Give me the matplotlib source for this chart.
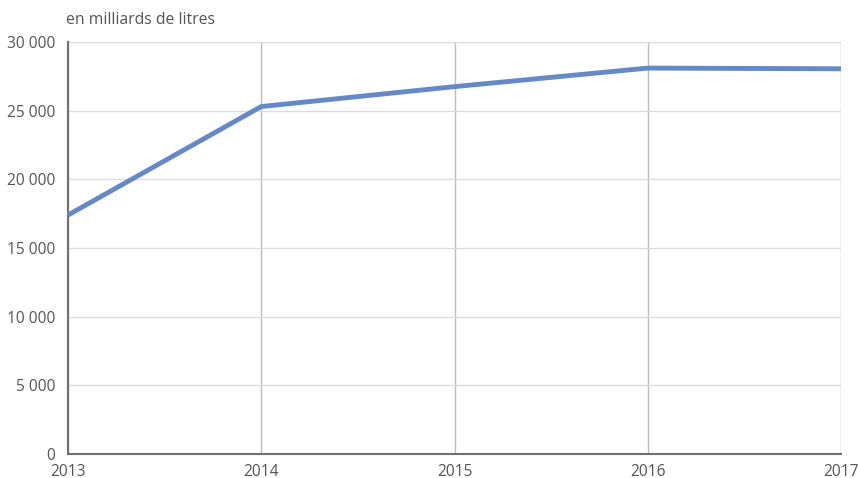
import matplotlib
matplotlib.use("Agg")
import matplotlib.pyplot as plt

years = [2013, 2014, 2015, 2016, 2017]
values = [17400, 25300, 26750, 28100, 28050]
yticks = [0, 5000, 10000, 15000, 20000, 25000, 30000]
ytick_labels = ["0", "5 000", "10 000", "15 000", "20 000", "25 000", "30 000"]
unit_label = "en milliards de litres"

plt.rcParams['font.family'] = ['Open Sans', 'DejaVu Sans']

W, H = 858, 478
fig = plt.figure(figsize=(W/100, H/100), dpi=100)
ax = fig.add_axes([68/W, 1-454/H, (841-68)/W, (454-42)/H])

ax.set_xlim(2013, 2017)
ax.set_ylim(0, 30000)
ax.set_yticks(yticks)
ax.set_yticklabels(ytick_labels)
ax.set_xticks(years)
ax.set_xticklabels([str(y) for y in years])

ax.grid(axis='y', color='#dcdcdc', linewidth=1)
ax.grid(axis='x', color='#bcbcbc', linewidth=1)
ax.set_axisbelow(True)

ax.plot(years, values, color='#6589c6', linewidth=3.5, solid_capstyle='butt', clip_on=False, zorder=3)

for s in ['top', 'right']:
    ax.spines[s].set_visible(False)
for s in ['left', 'bottom']:
    ax.spines[s].set_color('#707070')
    ax.spines[s].set_linewidth(1.5)

ax.tick_params(axis='both', length=0, labelsize=11.2, labelcolor='#555555')
ax.tick_params(axis='x', pad=7)
ax.tick_params(axis='y', pad=9)

fig.text(66/W, 1-20/H, unit_label, fontsize=11.3, color='#555555', ha='left', va='center')

fig.savefig('out.png', dpi=100)
